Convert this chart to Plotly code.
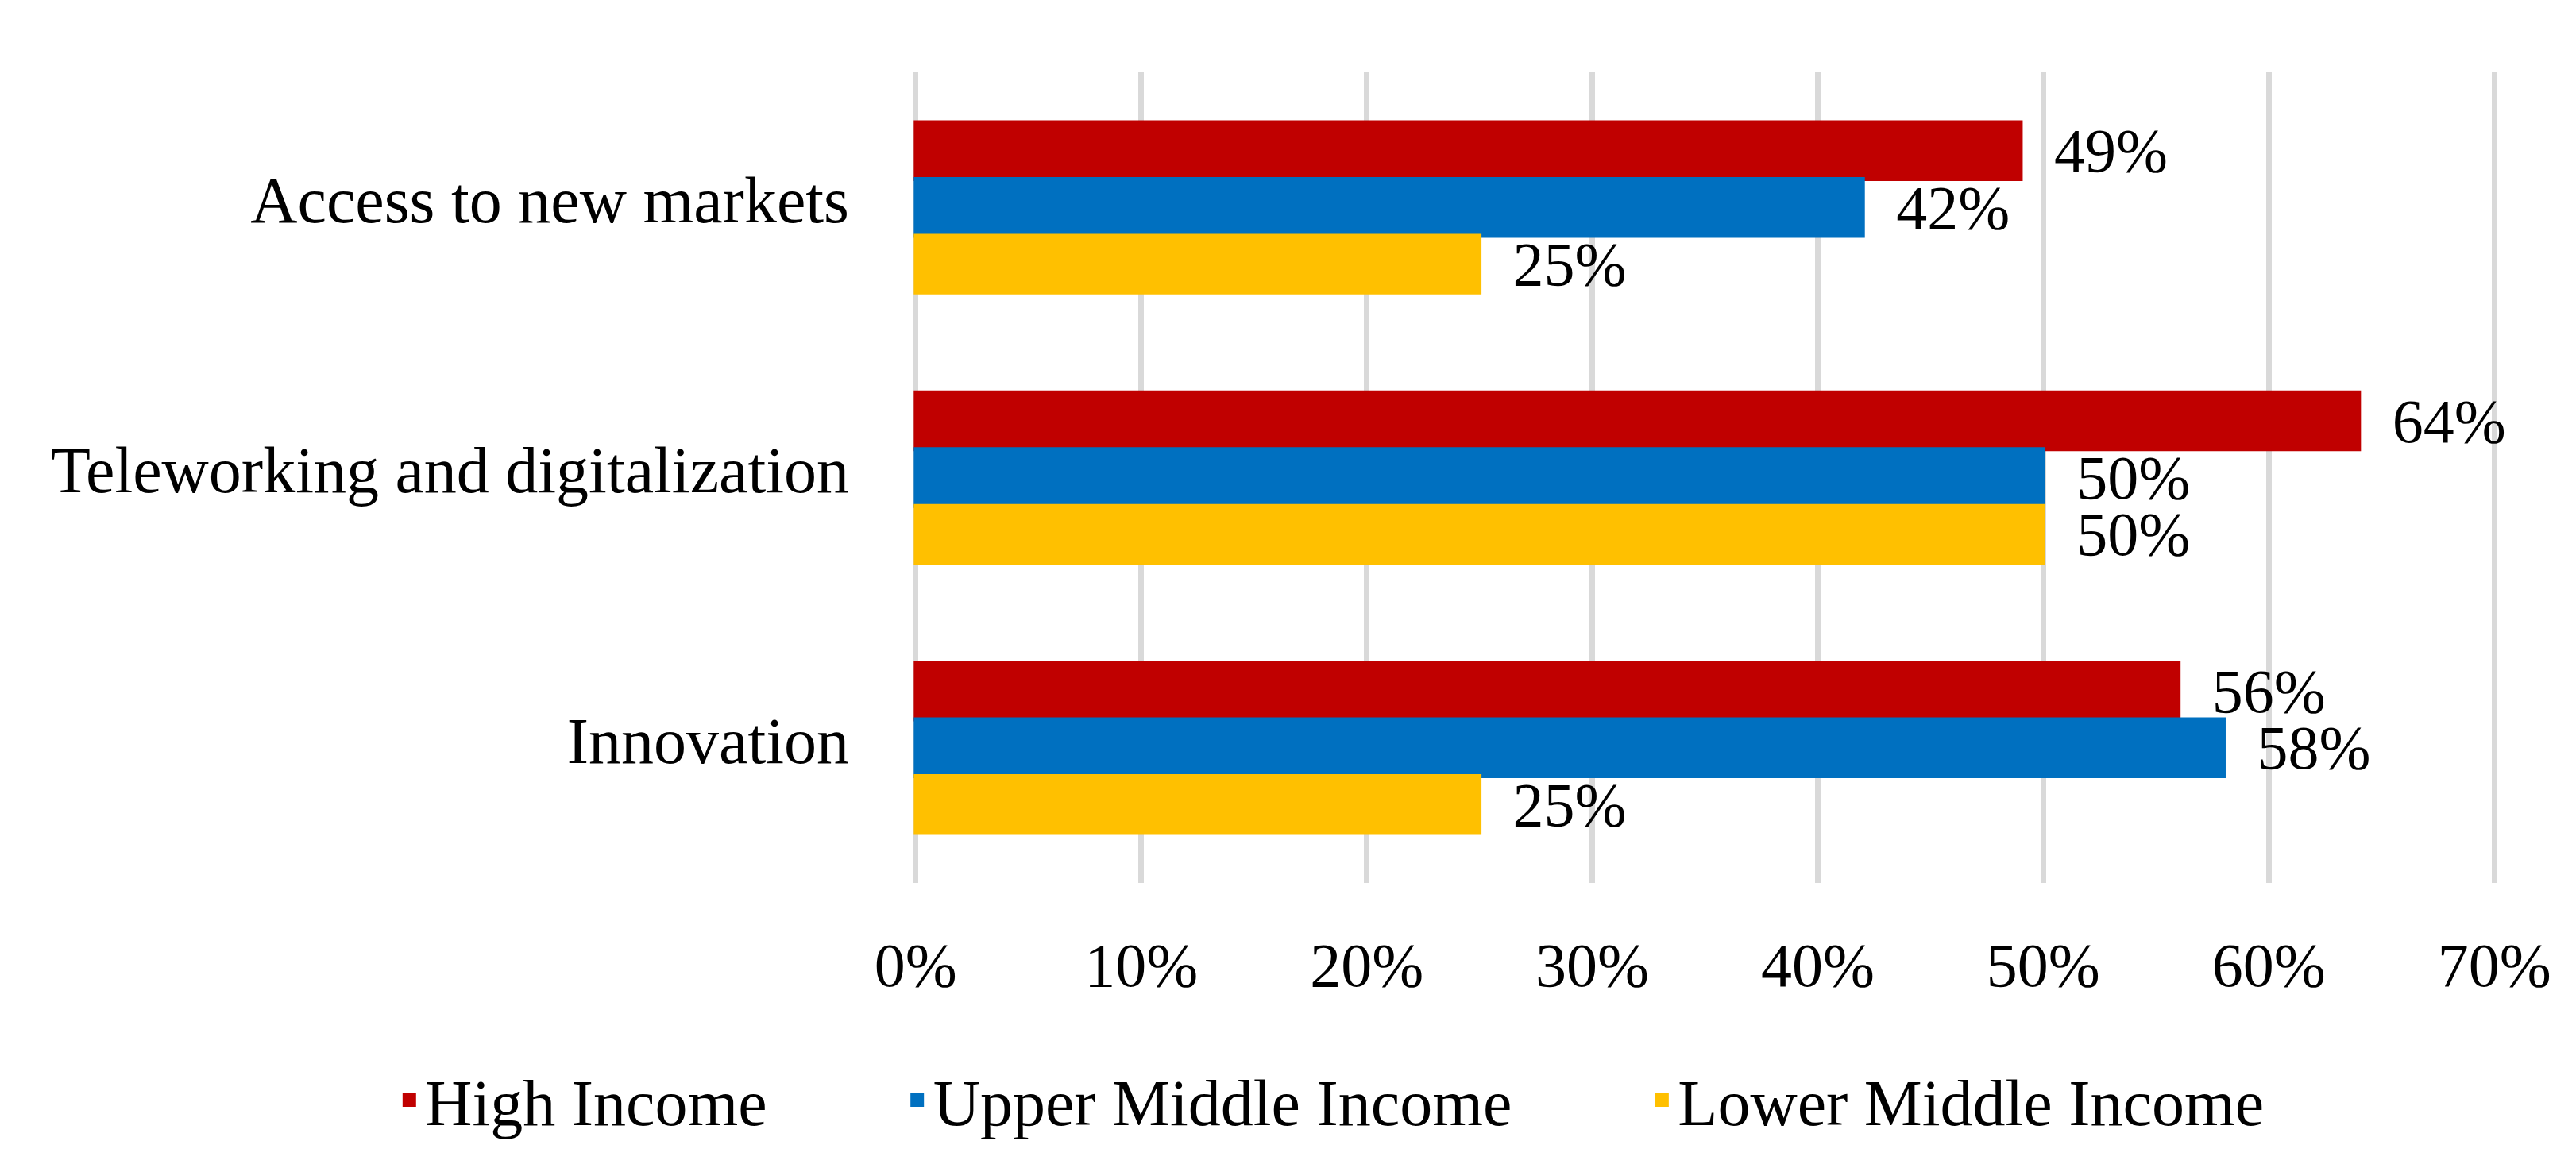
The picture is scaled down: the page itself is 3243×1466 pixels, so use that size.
import plotly.graph_objects as go

categories = ["Access to new markets", "Teleworking and digitalization", "Innovation"]
series_names = ["High Income", "Upper Middle Income", "Lower Middle Income"]
high_income = [0.49, 0.64, 0.56]
upper_middle_income = [0.42, 0.50, 0.58]
lower_middle_income = [0.25, 0.50, 0.25]
x_ticks = [0, 0.1, 0.2, 0.3, 0.4, 0.5, 0.6, 0.7]

colors = ["#C00000", "#0070C0", "#FFC000"]
FONT = "Liberation Serif"
FS_TEXT = 82
FS_NUM = 78
NB = "\u00a0"

fig = go.Figure()
for name, vals, col in zip(series_names, [high_income, upper_middle_income, lower_middle_income], colors):
    fig.add_trace(go.Bar(
        y=categories, x=vals, name=name + NB * 8, orientation="h",
        marker=dict(color=col, line=dict(color=col, width=5)),
        text=vals, texttemplate=NB * 2 + "%{x:.0%}", textposition="outside",
        textfont=dict(family=FONT, size=FS_NUM, color="black"),
        cliponaxis=False, constraintext="none", hoverinfo="skip",
    ))

fig.update_layout(
    width=3243, height=1466,
    margin=dict(l=1142, r=108, t=83, b=362, autoexpand=False),
    paper_bgcolor="white", plot_bgcolor="white",
    barmode="group", bargap=0.37, bargroupgap=0,
    font=dict(family=FONT, size=FS_TEXT, color="black"),
    showlegend=True,
    legend=dict(orientation="h", x=-0.3285, xanchor="left",
                y=-0.268, yanchor="middle", font=dict(family=FONT, size=FS_TEXT, color="black"),
                traceorder="normal", itemwidth=30),
)
fig.update_xaxes(range=[-0.001, 0.701], tickvals=x_ticks, tickformat=".0%",
                 showgrid=True, gridcolor="#D9D9D9", gridwidth=7,
                 zeroline=False, showline=False, ticks="", automargin=False,
                 ticklabelstandoff=51, tickfont=dict(family=FONT, size=FS_NUM, color="black"))
fig.update_yaxes(autorange="reversed", showgrid=False, zeroline=False, showline=False,
                 ticks="", ticklabelstandoff=80, ticklabelshift=10, automargin=False,
                 tickfont=dict(family=FONT, size=FS_TEXT, color="black"))

fig.write_html("out.html")
